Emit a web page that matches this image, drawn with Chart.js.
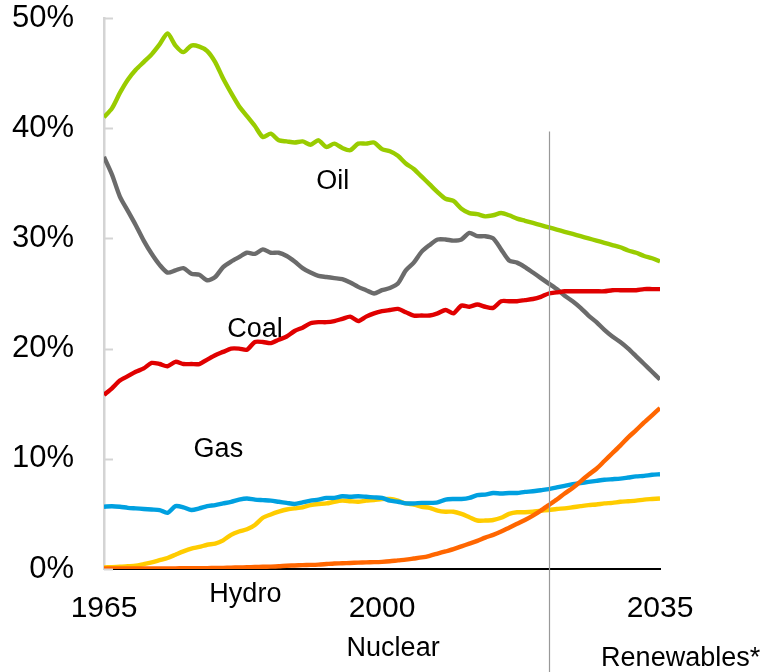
<!DOCTYPE html>
<html>
<head>
<meta charset="utf-8">
<script src="https://cdn.jsdelivr.net/npm/chart.js@4/dist/chart.umd.min.js"></script>
<style>
  html, body { margin: 0; padding: 0; background: #fff; }
  #wrap { width: 765px; height: 672px; }
</style>
</head>
<body>
<div id="wrap"><canvas id="chart" width="765" height="672"></canvas></div>
<script>
const years = [
  1965, 1966, 1967, 1968, 1969, 1970, 1971, 1972, 1973, 1974,
  1975, 1976, 1977, 1978, 1979, 1980, 1981, 1982, 1983, 1984,
  1985, 1986, 1987, 1988, 1989, 1990, 1991, 1992, 1993, 1994,
  1995, 1996, 1997, 1998, 1999, 2000, 2001, 2002, 2003, 2004,
  2005, 2006, 2007, 2008, 2009, 2010, 2011, 2012, 2013, 2014,
  2015, 2016, 2017, 2018, 2019, 2020, 2021, 2022, 2023, 2024,
  2025, 2026, 2027, 2028, 2029, 2030, 2031, 2032, 2033, 2034,
  2035
];

// shares of primary energy, %
const oil = [
  41.0, 41.8, 43.2, 44.4, 45.3, 46.0, 46.7, 47.6, 48.6, 47.5,
  46.9, 47.5, 47.4, 47.0, 46.0, 44.5, 43.2, 42.0, 41.1, 40.2,
  39.2, 39.5, 38.9, 38.8, 38.7, 38.8, 38.5, 38.9, 38.3, 38.6,
  38.2, 38.0, 38.6, 38.6, 38.7, 38.1, 37.9, 37.5, 36.8, 36.3,
  35.6, 34.9, 34.2, 33.6, 33.4, 32.7, 32.3, 32.2, 32.0, 32.1,
  32.3, 32.1, 31.8, 31.6, 31.4, 31.2, 31.0, 30.8, 30.6, 30.4,
  30.2, 30.0, 29.8, 29.6, 29.4, 29.2, 28.9, 28.7, 28.4, 28.2,
  27.9
];
const coal = [
  37.4, 35.8, 33.8, 32.5, 31.2, 29.8, 28.6, 27.6, 26.9, 27.1,
  27.3, 26.8, 26.7, 26.2, 26.5, 27.4, 27.9, 28.3, 28.7, 28.6,
  29.0, 28.7, 28.7, 28.4, 27.9, 27.3, 26.9, 26.6, 26.5, 26.4,
  26.3, 26.0, 25.6, 25.3, 25.0, 25.3, 25.5, 25.9, 27.1, 27.8,
  28.8, 29.4, 29.9, 29.9, 29.8, 29.9, 30.5, 30.2, 30.2, 30.0,
  29.0, 28.0, 27.8, 27.4, 26.9, 26.4, 25.9, 25.4, 24.8, 24.3,
  23.7, 23.0, 22.4, 21.7, 21.1, 20.6, 20.0, 19.3, 18.6, 17.9,
  17.2
];
const gas = [
  15.8, 16.4, 17.1, 17.5, 17.9, 18.2, 18.7, 18.6, 18.4, 18.8,
  18.6, 18.6, 18.6, 19.0, 19.4, 19.7, 20.0, 20.0, 19.9, 20.6,
  20.6, 20.5, 20.8, 21.1, 21.6, 21.9, 22.3, 22.4, 22.4, 22.5,
  22.7, 22.9, 22.5, 22.9, 23.2, 23.4, 23.5, 23.6, 23.3, 23.0,
  23.0, 23.0, 23.2, 23.5, 23.2, 23.9, 23.8, 24.0, 23.8, 23.7,
  24.3, 24.3, 24.3, 24.4, 24.5, 24.7, 25.0, 25.1, 25.2, 25.2,
  25.2, 25.2, 25.2, 25.2, 25.3, 25.3, 25.3, 25.3, 25.4, 25.4,
  25.4
];
const hydro = [
  5.65, 5.7, 5.65, 5.55, 5.5, 5.45, 5.4, 5.35, 5.1, 5.7,
  5.6, 5.35, 5.5, 5.7, 5.8, 5.95, 6.1, 6.3, 6.4, 6.3,
  6.25, 6.2, 6.1, 6.0, 5.9, 6.05, 6.2, 6.3, 6.45, 6.45,
  6.6, 6.55, 6.6, 6.55, 6.5, 6.45, 6.2, 6.1, 5.95, 5.95,
  6.0, 6.0, 6.05, 6.3, 6.35, 6.35, 6.45, 6.7, 6.75, 6.9,
  6.85, 6.9, 6.9, 7.0, 7.05, 7.15, 7.25, 7.4, 7.55, 7.7,
  7.8, 7.9, 8.0, 8.1, 8.15, 8.2, 8.3, 8.4, 8.45, 8.55,
  8.6
];
const nuclear = [
  0.15, 0.17, 0.2, 0.25, 0.3, 0.45, 0.6, 0.8, 1.0, 1.3,
  1.6, 1.85, 2.0, 2.2, 2.3, 2.6, 3.1, 3.4, 3.6, 4.0,
  4.65, 4.95, 5.2, 5.4, 5.5, 5.6, 5.8, 5.9, 5.95, 6.1,
  6.2, 6.15, 6.1, 6.2, 6.25, 6.35, 6.35, 6.2, 5.95, 5.85,
  5.65, 5.55, 5.3, 5.2, 5.2, 5.0, 4.7, 4.4, 4.4, 4.45,
  4.65, 5.0, 5.15, 5.15, 5.2, 5.3, 5.35, 5.45, 5.5, 5.6,
  5.7, 5.8, 5.85, 5.95, 6.0, 6.1, 6.15, 6.2, 6.3, 6.35,
  6.4
];
const renewables = [
  0.05, 0.05, 0.05, 0.05, 0.05, 0.05, 0.05, 0.06, 0.06, 0.06,
  0.07, 0.07, 0.08, 0.08, 0.09, 0.1, 0.12, 0.14, 0.16, 0.18,
  0.2, 0.22, 0.25, 0.3, 0.32, 0.35, 0.37, 0.4, 0.45, 0.5,
  0.52, 0.55, 0.58, 0.6, 0.62, 0.65, 0.7, 0.78, 0.85, 0.95,
  1.05, 1.2, 1.4, 1.6, 1.8, 2.05, 2.3, 2.55, 2.85, 3.1,
  3.4, 3.75, 4.1, 4.45, 4.85, 5.3, 5.8, 6.3, 6.85, 7.35,
  7.95, 8.55, 9.1, 9.8, 10.5, 11.2, 11.95, 12.6, 13.3, 13.95,
  14.6
];

const yTicks = [0, 10, 20, 30, 40, 50];
const xTicks = [1965, 2000, 2035];

// projection divider
const dividerYear = 2021;
const dividerTop = 39.7;

// series labels: [text, year, share]
const seriesLabels = [
  ["Oil", 1993.8, 35.2],
  ["Coal", 1984.0, 21.7],
  ["Gas", 1979.4, 10.8],
  ["Hydro", 1982.8, -2.3],
  ["Nuclear", 2001.4, -7.2],
  ["Renewables*", 2037.6, -8.1]
];

const FONT = "'Liberation Sans', Arial, sans-serif";

function series(values) {
  return values.map((v, i) => ({ x: years[i], y: v }));
}

const overlay = {
  id: "overlay",
  afterDatasetsDraw(chart) {
    const { ctx, scales } = chart;
    const x = scales.x, y = scales.y;
    ctx.save();
    // inward y ticks
    ctx.strokeStyle = "#d4d4d4";
    ctx.lineWidth = 2;
    yTicks.forEach(t => {
      const py = Math.round(y.getPixelForValue(t)) + 0.5;
      ctx.beginPath();
      ctx.moveTo(x.left, py);
      ctx.lineTo(x.left + 9, py);
      ctx.stroke();
    });
    // divider
    const dx = Math.round(x.getPixelForValue(dividerYear)) + 0.5;
    ctx.strokeStyle = "#999999";
    ctx.lineWidth = 1.2;
    ctx.beginPath();
    ctx.moveTo(dx, y.getPixelForValue(dividerTop));
    ctx.lineTo(dx, chart.height);
    ctx.stroke();
    // labels
    ctx.fillStyle = "#000";
    ctx.font = "27px " + FONT;
    ctx.textAlign = "center";
    ctx.textBaseline = "middle";
    seriesLabels.forEach(([t, yr, v]) => {
      ctx.fillText(t, x.getPixelForValue(yr), y.getPixelForValue(v));
    });
    ctx.restore();
  }
};

const lineOpts = { fill: false, borderWidth: 4.4, pointRadius: 0, tension: 0.25, borderCapStyle: "butt" };

new Chart(document.getElementById("chart").getContext("2d"), {
  type: "line",
  data: {
    datasets: [
      { label: "Renewables*", data: series(renewables), borderColor: "#ff6600", order: 0, ...lineOpts },
      { label: "Hydro", data: series(hydro), borderColor: "#00a0e0", order: 1, ...lineOpts },
      { label: "Nuclear", data: series(nuclear), borderColor: "#ffcc00", order: 2, ...lineOpts },
      { label: "Gas", data: series(gas), borderColor: "#e00000", order: 3, ...lineOpts },
      { label: "Coal", data: series(coal), borderColor: "#6b6b6b", order: 4, ...lineOpts },
      { label: "Oil", data: series(oil), borderColor: "#99cc00", order: 5, ...lineOpts }
    ]
  },
  options: {
    responsive: false,
    animation: false,
    layout: { padding: { top: 18, right: 105, left: 0, bottom: 0 } },
    plugins: { legend: { display: false }, tooltip: { enabled: false } },
    scales: {
      x: {
        type: "linear",
        min: 1965,
        max: 2035,
        afterFit: s => { s.height = 103; s.paddingLeft = 0; s.paddingRight = 0; },
        afterBuildTicks: s => { s.ticks = xTicks.map(v => ({ value: v })); },
        grid: { display: false, drawTicks: false },
        border: { display: true, color: "#000", width: 2 },
        ticks: {
          padding: 22,
          color: "#000",
          font: { family: FONT, size: 30 },
          maxRotation: 0,
          callback: v => String(v)
        }
      },
      y: {
        min: 0,
        max: 50,
        afterFit: s => { s.width = 104; s.paddingTop = 0; s.paddingBottom = 0; },
        afterBuildTicks: s => { s.ticks = yTicks.map(v => ({ value: v })); },
        grid: { display: false, drawTicks: false },
        border: { display: true, color: "#d4d4d4", width: 2.5 },
        ticks: {
          padding: 30,
          color: "#000",
          font: { family: FONT, size: 31 },
          callback: v => v + "%"
        }
      }
    }
  },
  plugins: [overlay]
});
</script>
</body>
</html>
